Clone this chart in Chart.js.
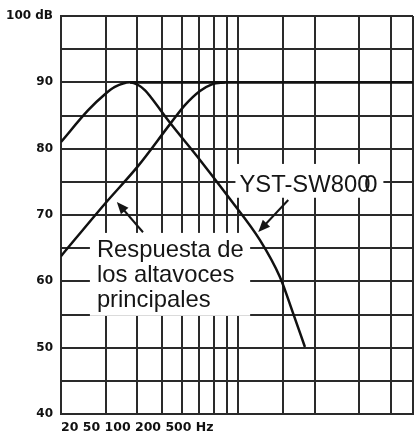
<!DOCTYPE html>
<html><head><meta charset="utf-8">
<script src="https://cdn.jsdelivr.net/npm/chart.js@4.4.1/dist/chart.umd.min.js"></script>
<style>html,body{margin:0;padding:0;background:#fff}#wrap{width:415px;height:434px;position:relative}</style>
</head><body><div id="wrap"><canvas id="c"></canvas></div>
<script>
// ---- data ----
const xGridHz = [20, 30, 40, 50, 60, 70, 80, 90, 100, 150, 200, 300, 400, 488];
const xAxisText = '20 50 100 200 500 Hz';
const yMin = 40, yMax = 100, yStep = 5;

const subFreq = [20, 25.6, 29.8, 32.6, 37.4, 40.3, 42.9, 44.9, 53.8, 70.6, 92.7, 121.7, 146, 164.3, 183];
const subDb   = [81.0, 85.8, 88.2, 89.3, 90.0, 89.6, 88.8, 87.9, 83.9, 78.3, 72.4, 66.2, 60.6, 55.2, 50.1];

const mainFreq = [20, 29.8, 40.3, 53.8, 61.7, 70.6, 78.7, 88.6];
const mainDb   = [63.8, 71.7, 77.4, 83.7, 86.6, 88.7, 89.7, 90.0];

const totalFreq = [37.4, 488];
const totalDb   = [90, 90];

const subLabel = ['YST-SW800'];
const mainLabel = ['Respuesta de', 'los altavoces', 'principales'];

const pts = (xs, ys) => xs.map((x, i) => ({x, y: ys[i]}));

const annotations = [
  {lines: subLabel, extraZero: true, box: [97.4, 373, 77.7, 72.6], text: [101, 73.47], lineGap: 25,
   arrow: [157.3, 72.26, 119.8, 67.43]},
  {lines: mainLabel, extraZero: false, box: [26.0, 111.3, 67.3, 54.8], text: [27.7, 63.7], lineGap: 25,
   arrow: [42.1, 67.4, 33.2, 71.96]}
];

const notePlugin = {
  id: 'notes',
  beforeDatasetsDraw(chart) {
    const {ctx, scales: {x, y}} = chart;
    ctx.save();
    annotations.forEach(a => {
      const l = x.getPixelForValue(a.box[0]), r = x.getPixelForValue(a.box[1]);
      const t = y.getPixelForValue(a.box[2]), b = y.getPixelForValue(a.box[3]);
      ctx.fillStyle = '#fff';
      ctx.fillRect(l, t, r - l, b - t);
      ctx.fillStyle = '#151515';
      ctx.font = '23.8px "Liberation Sans", Arial, sans-serif';
      ctx.textBaseline = 'alphabetic';
      ctx.textAlign = 'left';
      const tx = x.getPixelForValue(a.text[0]);
      const ty = y.getPixelForValue(a.text[1]);
      a.lines.forEach((s, i) => ctx.fillText(s, tx, ty + i * a.lineGap));
      if (a.extraZero) {
        const w = ctx.measureText(a.lines[0]).width;
        ctx.fillText('0', tx + w - 6, ty);
      }
      // arrow
      const x1 = x.getPixelForValue(a.arrow[0]), y1 = y.getPixelForValue(a.arrow[1]);
      const x2 = x.getPixelForValue(a.arrow[2]), y2 = y.getPixelForValue(a.arrow[3]);
      const ang = Math.atan2(y2 - y1, x2 - x1);
      const hl = 12, hw = 5;
      ctx.strokeStyle = '#151515';
      ctx.lineWidth = 2;
      ctx.beginPath();
      ctx.moveTo(x1, y1);
      ctx.lineTo(x2 - Math.cos(ang) * hl * 0.8, y2 - Math.sin(ang) * hl * 0.8);
      ctx.stroke();
      ctx.beginPath();
      ctx.moveTo(x2, y2);
      ctx.lineTo(x2 - Math.cos(ang) * hl - Math.sin(ang) * hw, y2 - Math.sin(ang) * hl + Math.cos(ang) * hw);
      ctx.lineTo(x2 - Math.cos(ang) * hl + Math.sin(ang) * hw, y2 - Math.sin(ang) * hl - Math.cos(ang) * hw);
      ctx.closePath();
      ctx.fill();
    });
    ctx.restore();
  }
};

const lineStyle = {borderColor: '#111', borderWidth: 2.5, pointRadius: 0, fill: false,
  cubicInterpolationMode: 'monotone'};

new Chart(document.getElementById('c'), {
  type: 'line',
  data: {
    datasets: [
      Object.assign({label: 'YST-SW800', data: pts(subFreq, subDb)}, lineStyle),
      Object.assign({label: 'Respuesta de los altavoces principales', data: pts(mainFreq, mainDb)}, lineStyle),
      Object.assign({label: 'Total', data: pts(totalFreq, totalDb)}, lineStyle, {borderWidth: 2.8})
    ]
  },
  options: {
    responsive: true,
    maintainAspectRatio: false,
    animation: false,
    devicePixelRatio: 1,
    layout: {padding: {top: 16, right: 2, left: 0, bottom: 0}},
    plugins: {legend: {display: false}, tooltip: {enabled: false}},
    scales: {
      x: {
        type: 'logarithmic',
        min: xGridHz[0], max: xGridHz[xGridHz.length - 1],
        afterBuildTicks: s => { s.ticks = xGridHz.map(v => ({value: v})); },
        afterFit: s => { s.height = 20; },
        ticks: {display: false},
        grid: {color: '#2a2a2a', lineWidth: 2, drawTicks: false},
        border: {display: true, color: '#2a2a2a', width: 2},
        title: {display: true, text: xAxisText, align: 'start', color: '#111',
          font: {family: '"DejaVu Sans"', weight: 'bold', size: 12.5, lineHeight: 1},
          padding: {top: 0, bottom: 0}}
      },
      y: {
        type: 'linear',
        min: yMin, max: yMax,
        afterFit: s => { s.width = 61; },
        ticks: {stepSize: yStep, padding: 8, color: '#111',
          font: {family: '"DejaVu Sans"', weight: 'bold', size: 12},
          callback: v => v % 10 === 0 ? (v === yMax ? v + ' dB' : String(v)) : ''},
        grid: {color: '#2a2a2a', lineWidth: 2, drawTicks: false},
        border: {display: true, color: '#2a2a2a', width: 2}
      }
    }
  },
  plugins: [notePlugin]
});
</script>
</body></html>
